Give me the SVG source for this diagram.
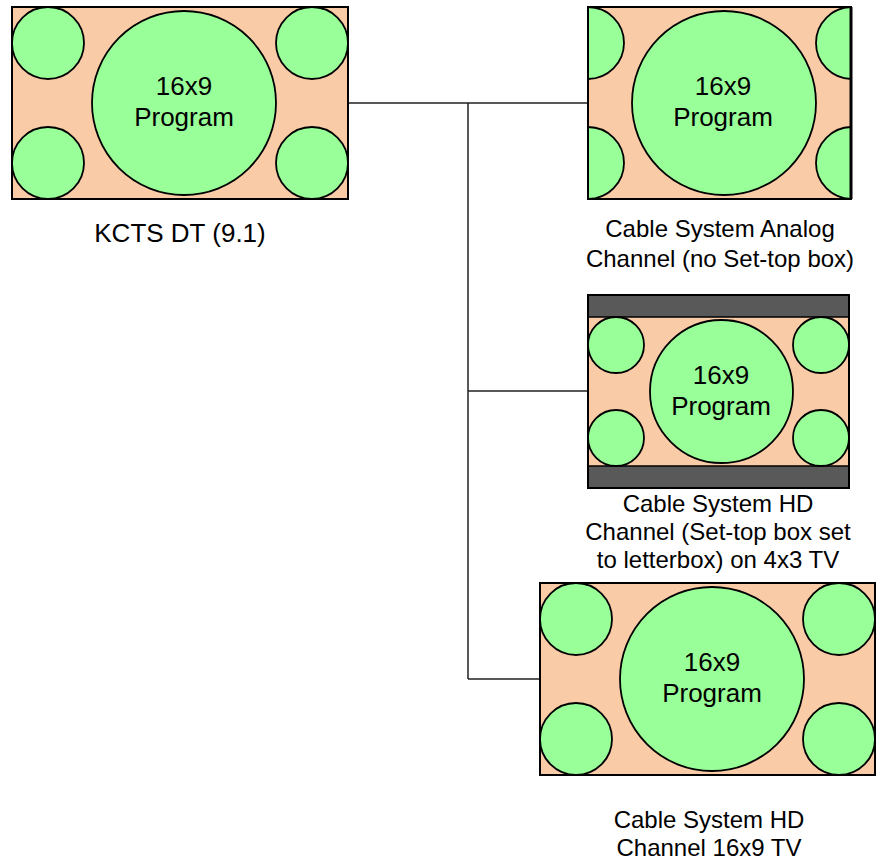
<svg xmlns="http://www.w3.org/2000/svg" width="877" height="863" viewBox="0 0 877 863">
<style>
.bg{fill:#f9cba7;stroke:none}
.frame{fill:none;stroke:#000;stroke-width:2}
.c{fill:#99ff99;stroke:#000;stroke-width:1.8}
.bar{fill:#595959;stroke:#000;stroke-width:1.5}
.t{font-family:"Liberation Sans",Arial,sans-serif;fill:#000;text-anchor:middle}
.in{font-size:26px}
.lb{font-size:24px}
.conn{fill:none;stroke:#222;stroke-width:1.5}
</style>
<defs>
<clipPath id="clip2"><rect x="588" y="7" width="263" height="192"/></clipPath>
</defs>
<g id="connectors">
<path class="conn" d="M348 103H588M468 103V679M468 391H588M468 679H540"/>
</g>
<g id="kcts">
<rect class="bg" x="12" y="7" width="336" height="192"/>
<circle class="c" cx="48" cy="43" r="36"/>
<circle class="c" cx="48" cy="163" r="36"/>
<circle class="c" cx="312" cy="43" r="36"/>
<circle class="c" cx="312" cy="163" r="36"/>
<circle class="c" cx="184" cy="103" r="92"/>
<rect class="frame" x="12" y="7" width="336" height="192"/>
<text class="t in" x="184" y="95">16x9</text>
<text class="t in" x="184" y="126">Program</text>
<text class="t in" x="180" y="242">KCTS DT (9.1)</text>
</g>
<g id="analog">
<rect class="bg" x="588" y="7" width="263" height="192"/>
<g clip-path="url(#clip2)">
<circle class="c" cx="588" cy="43" r="36"/>
<circle class="c" cx="588" cy="163" r="36"/>
<circle class="c" cx="852" cy="43" r="36"/>
<circle class="c" cx="852" cy="163" r="36"/>
</g>
<circle class="c" cx="724" cy="103" r="92"/>
<rect class="frame" x="588" y="7" width="263" height="192"/>
<line x1="851" y1="7" x2="851" y2="199" stroke="#000" stroke-width="3"/>
<text class="t in" x="723" y="95">16x9</text>
<text class="t in" x="723" y="126">Program</text>
<text class="t lb" x="720" y="237">Cable System Analog</text>
<text class="t lb" x="720" y="267">Channel (no Set-top box)</text>
</g>
<g id="letterbox">
<rect class="bg" x="588" y="317" width="261" height="149"/>
<rect class="bar" x="588" y="295" width="261" height="22"/>
<rect class="bar" x="588" y="466" width="261" height="22"/>
<circle class="c" cx="616" cy="345" r="28"/>
<circle class="c" cx="616" cy="438" r="28"/>
<circle class="c" cx="821" cy="345" r="28"/>
<circle class="c" cx="821" cy="438" r="28"/>
<circle class="c" cx="721.5" cy="391.5" r="71.5"/>
<rect class="frame" x="588" y="295" width="261" height="193"/>
<text class="t in" x="721" y="384">16x9</text>
<text class="t in" x="721" y="415">Program</text>
<text class="t lb" x="718" y="512">Cable System HD</text>
<text class="t lb" x="718" y="540">Channel (Set-top box set</text>
<text class="t lb" x="718" y="568">to letterbox) on 4x3 TV</text>
</g>
<g id="hd169">
<rect class="bg" x="540" y="583" width="335" height="192"/>
<circle class="c" cx="576" cy="619" r="36"/>
<circle class="c" cx="576" cy="739" r="36"/>
<circle class="c" cx="839" cy="619" r="36"/>
<circle class="c" cx="839" cy="739" r="36"/>
<circle class="c" cx="712" cy="679" r="92"/>
<rect class="frame" x="540" y="583" width="335" height="192"/>
<text class="t in" x="712" y="671">16x9</text>
<text class="t in" x="712" y="702">Program</text>
<text class="t lb" x="709" y="828">Cable System HD</text>
<text class="t lb" x="709" y="856">Channel 16x9 TV</text>
</g>
</svg>
